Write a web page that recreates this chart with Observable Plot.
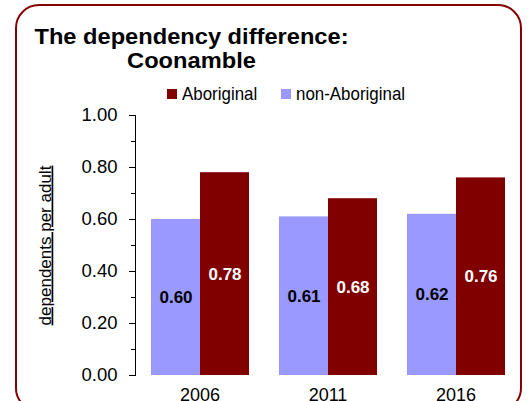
<!DOCTYPE html>
<html><head><meta charset="utf-8">
<script src="https://cdn.jsdelivr.net/npm/d3@7"></script>
<script src="https://cdn.jsdelivr.net/npm/@observablehq/plot@0.6"></script>
<style>
html,body{margin:0;padding:0;background:#fff;}
#wrap{position:relative;width:531px;height:401px;overflow:hidden;font-family:"Liberation Sans",Arial,sans-serif;}
#border{position:absolute;left:15px;top:4px;width:507px;height:408px;box-sizing:border-box;border:2.5px solid #850000;border-radius:24px;}
#title{position:absolute;left:0;top:26px;width:383px;text-align:center;font-weight:bold;font-size:21.5px;line-height:23.5px;color:#000;transform:scaleX(1.1);transform-origin:191.5px 0;}
#legend{position:absolute;top:83px;left:167px;display:flex;align-items:center;font-family:"Liberation Sans",Arial,sans-serif;font-size:19px;line-height:22px;color:#000;white-space:nowrap;}
#legend .item{display:flex;align-items:center;margin-right:24px;}
#legend .sw{width:10px;height:10px;margin-right:5px;}
#legend .lab{display:inline-block;transform:scaleX(0.89);transform-origin:0 0;}
#chart{position:absolute;left:0;top:0;width:531px;height:401px;}
#chart svg{max-width:none !important;}
#axisline{position:absolute;width:1px;background:#000;}
g[aria-label="y-axis label"] text{text-decoration:underline;font-size:17px;}
</style></head>
<body>
<div id="wrap">
  <div id="border"></div>
  <div id="title"></div>
  <div id="legend"></div>
  <div id="chart"></div>
  <div id="axisline"></div>
</div>
<script>
const titleLines = ["The dependency difference:", "Coonamble"];
const years = ["2006", "2011", "2016"];
const series = ["non-Aboriginal", "Aboriginal"];
const legendOrder = ["Aboriginal", "non-Aboriginal"];
const nonAboriginal = [0.60, 0.61, 0.62];
const aboriginal = [0.78, 0.68, 0.76];
const yTicks = [0, 0.2, 0.4, 0.6, 0.8, 1.0];
const yMinorTicks = [0.1, 0.3, 0.5, 0.7, 0.9];
const colors = ["#9999FF", "#800000"];
const yLabel = "dependents per adult";

const data = years.flatMap((yr, i) => [
  {year: yr, series: "non-Aboriginal", value: nonAboriginal[i]},
  {year: yr, series: "Aboriginal", value: aboriginal[i]}
]);

document.getElementById("title").innerHTML = titleLines.join("<br>");
const legend = d3.select("#legend");
legendOrder.forEach(s => {
  const it = legend.append("div").attr("class", "item");
  it.append("div").attr("class", "sw").style("background", colors[series.indexOf(s)]);
  it.append("span").attr("class", "lab").text(s);
});
legend.selectAll(".lab").each(function() {
  const w = this.getBoundingClientRect().width;
  const raw = this.offsetWidth;
  this.style.marginRight = (w - raw) + "px";
});

const groupInset = 15;
const margins = {marginLeft: 134, marginRight: 26, marginTop: 115, marginBottom: 26};
const chart = Plot.plot({
  width: 531, height: 401,
  ...margins,
  style: {fontFamily: '"Liberation Sans", Arial, sans-serif', background: "transparent", overflow: "visible", color: "#000"},
  fx: {domain: years, paddingInner: 0.1128, paddingOuter: 0, label: null},
  x: {domain: series, padding: 0, insetLeft: groupInset, axis: null},
  y: {domain: [0, 1]},
  color: {domain: series, range: colors},
  marks: [
    Plot.barY(data, {fx: "year", x: "series", y: "value", fill: "series"}),
    Plot.text(data.filter(d => d.series === "non-Aboriginal"), {fx: "year", x: "series", y: d => d.value / 2, text: d => d.value.toFixed(2), fill: "#000", fontWeight: "bold", fontSize: 17}),
    Plot.text(data.filter(d => d.series === "Aboriginal"), {fx: "year", x: "series", y: d => d.value / 2, text: d => d.value.toFixed(2), fill: "#fff", fontWeight: "bold", fontSize: 17}),
    Plot.axisY(yMinorTicks, {tickSize: 4, tickFormat: () => "", label: null}),
    Plot.axisY(yTicks, {tickSize: 6, tickPadding: 12, tickFormat: d3.format(".2f"), fontSize: 18.5, label: yLabel, labelArrow: false, labelAnchor: "center", labelOffset: 97}),
    Plot.axisFx({anchor: "bottom", tickSize: 0, tickPadding: 13, fontSize: 18, dx: groupInset / 2, label: null})
  ]
});
document.getElementById("chart").appendChild(chart);

// y-axis line, placed from the chart's own scales
const fxScale = chart.scale("fx");
const yScale = chart.scale("y");
let ax = fxScale && fxScale.apply(years[0]);
if (!Number.isFinite(ax)) ax = margins.marginLeft;
let yTop = yScale.apply(yTicks[yTicks.length - 1]);
let yBot = yScale.apply(yTicks[0]);
if (!Number.isFinite(yTop)) yTop = margins.marginTop;
if (!Number.isFinite(yBot)) yBot = 401 - margins.marginBottom;
const al = document.getElementById("axisline");
al.style.left = (ax - 0.5) + "px";
al.style.top = yTop + "px";
al.style.height = (yBot - yTop + 1) + "px";
</script>
</body></html>
